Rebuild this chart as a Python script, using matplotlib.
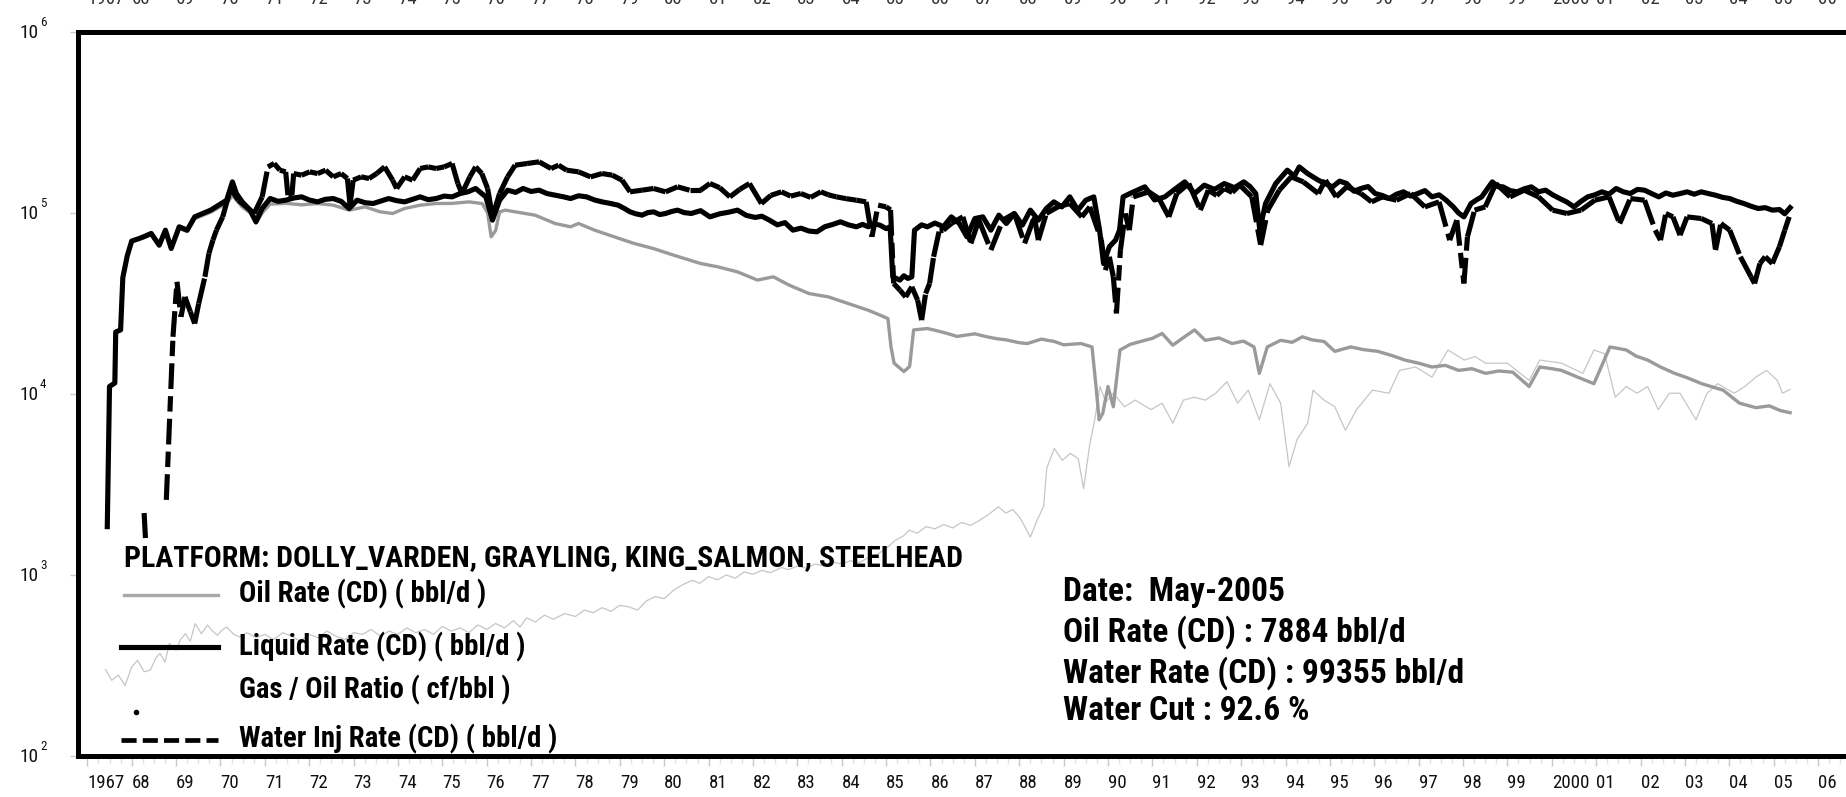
import numpy as np
import matplotlib
matplotlib.use('Agg')
import matplotlib.pyplot as plt
from matplotlib import font_manager
from matplotlib.font_manager import FontProperties
from matplotlib.collections import LineCollection
from matplotlib.lines import Line2D
from matplotlib.ticker import FixedLocator, MultipleLocator, NullFormatter

# ---------------- data ----------------
liq_year = [1967.45, 1967.50, 1967.62, 1967.64, 1967.75, 1967.80, 1967.90, 1968.00, 1968.15, 1968.27,
            1968.44, 1968.62, 1968.76, 1968.89, 1969.07, 1969.25, 1969.42, 1969.60, 1969.78, 1969.96,
            1970.14, 1970.27, 1970.36, 1970.49, 1970.67, 1970.80, 1970.94, 1971.12, 1971.30, 1971.47,
            1971.65, 1971.83, 1972.00, 1972.19, 1972.36, 1972.54, 1972.72, 1972.90, 1973.08, 1973.26,
            1973.44, 1973.62, 1973.79, 1973.97, 1974.15, 1974.33, 1974.50, 1974.68, 1974.86, 1975.04,
            1975.22, 1975.40, 1975.58, 1975.75, 1975.98, 1976.13, 1976.29, 1976.47, 1976.65, 1976.82,
            1977.00, 1977.18, 1977.36, 1977.54, 1977.72, 1977.89, 1978.07, 1978.25, 1978.43, 1978.60,
            1978.78, 1978.96, 1979.10, 1979.23, 1979.36, 1979.50, 1979.63, 1979.76, 1979.90, 1980.03,
            1980.17, 1980.30, 1980.45, 1980.61, 1980.82, 1981.03, 1981.25, 1981.45, 1981.65, 1981.85,
            1982.05, 1982.20, 1982.37, 1982.55, 1982.72, 1982.90, 1983.08, 1983.26, 1983.44, 1983.62,
            1983.80, 1983.97, 1984.15, 1984.33, 1984.47, 1984.60, 1984.73, 1984.86, 1985.00, 1985.09,
            1985.15, 1985.31, 1985.40, 1985.49, 1985.58, 1985.64, 1985.80, 1985.93, 1986.10, 1986.29,
            1986.47, 1986.65, 1986.82, 1987.00, 1987.18, 1987.36, 1987.54, 1987.71, 1987.89, 1988.07,
            1988.25, 1988.43, 1988.61, 1988.78, 1988.96, 1989.14, 1989.32, 1989.50, 1989.68, 1989.81,
            1989.90, 1990.03, 1990.17, 1990.26, 1990.34, 1990.55, 1990.83, 1991.05, 1991.28, 1991.50,
            1991.73, 1991.95, 1992.17, 1992.40, 1992.62, 1992.85, 1993.06, 1993.20, 1993.33, 1993.42,
            1993.55, 1993.78, 1994.04, 1994.20, 1994.31, 1994.50, 1994.74, 1994.90, 1995.06, 1995.22,
            1995.38, 1995.54, 1995.70, 1995.86, 1996.02, 1996.18, 1996.34, 1996.50, 1996.66, 1996.82,
            1996.98, 1997.14, 1997.30, 1997.46, 1997.62, 1997.78, 1997.90, 1998.02, 1998.18, 1998.30,
            1998.42, 1998.54, 1998.66, 1998.78, 1998.90, 1999.06, 1999.22, 1999.38, 1999.54, 1999.70,
            1999.86, 2000.02, 2000.18, 2000.34, 2000.50, 2000.66, 2000.81, 2000.97, 2001.13, 2001.29,
            2001.45, 2001.61, 2001.77, 2001.93, 2002.09, 2002.25, 2002.41, 2002.57, 2002.73, 2002.89,
            2003.05, 2003.21, 2003.37, 2003.53, 2003.69, 2003.85, 2004.01, 2004.17, 2004.33, 2004.49,
            2004.65, 2004.81, 2004.97, 2005.13, 2005.25, 2005.37]
liq_rate = [1850, 11000, 11500, 22000, 22600, 44000, 58000, 70000, 72000, 73900,
            77100, 66400, 80400, 63700, 83900, 80400, 95200, 99400, 103700, 110500,
            117700, 148600, 128100, 115200, 103700, 89400, 105900, 120200, 116000, 117700,
            121000, 122800, 118000, 115200, 119000, 120200, 116000, 105900, 117700, 114000,
            112800, 116500, 120200, 117000, 115200, 119000, 122800, 118500, 120200, 124000,
            122800, 128100, 131000, 136600, 122800, 91300, 117700, 133700, 130000, 136600,
            131500, 133700, 128000, 125400, 123000, 120200, 124500, 122800, 118000, 115200,
            113000, 110500, 106000, 101500, 99000, 97300, 100500, 101500, 98000, 99400,
            102000, 103700, 100500, 99400, 103000, 95200, 99000, 101000, 103700, 97000,
            94500, 96000, 91300, 86000, 88500, 80400, 82500, 79500, 78700, 84000,
            86500, 89400, 86000, 83900, 86500, 83900, 87000, 85700, 82000, 83900,
            44400, 42600, 45000, 43500, 44400, 80400, 86000, 83900, 88000, 84000,
            95200, 87500, 73900, 93200, 95200, 80400, 97300, 87500, 99400, 85700,
            103700, 91300, 105900, 115200, 108100, 122800, 103700, 117700, 122800, 80400,
            52600, 65100, 70800, 80400, 122800, 130000, 139500, 118000, 122800, 135000,
            148600, 128000, 142500, 135000, 145500, 138000, 148600, 140000, 128100, 80400,
            112800, 145500, 172400, 160000, 179800, 165000, 151800, 145000, 139500, 150000,
            145500, 132000, 136600, 140000, 128100, 125000, 120200, 127000, 130900, 124000,
            128100, 133000, 122800, 126000, 117700, 108100, 100000, 95200, 112800, 118000,
            122800, 135000, 148600, 140000, 139500, 133000, 130900, 136000, 139500, 131000,
            133700, 126000, 120200, 115000, 108100, 116000, 122800, 126000, 130900, 127000,
            136600, 131000, 128100, 135000, 133700, 128000, 122800, 129000, 125400, 128000,
            130900, 127000, 130900, 128000, 125400, 122000, 120200, 116000, 112800, 109000,
            105900, 107000, 103700, 104500, 99000, 107000]

oil_year = [1967.45, 1967.50, 1967.62, 1967.64, 1967.75, 1967.80, 1967.90, 1968.00, 1968.15, 1968.27,
            1968.44, 1968.62, 1968.76, 1968.89, 1969.07, 1969.25, 1969.42, 1969.60, 1969.78, 1969.96,
            1970.14, 1970.27, 1970.36, 1970.49, 1970.67, 1970.80, 1970.94, 1971.12, 1971.50, 1971.83,
            1972.19, 1972.54, 1972.90, 1973.26, 1973.60, 1973.88, 1974.15, 1974.50, 1974.86, 1975.22,
            1975.60, 1975.90, 1976.02, 1976.10, 1976.20, 1976.29, 1976.42, 1976.64, 1977.09, 1977.54,
            1977.89, 1978.07, 1978.43, 1978.87, 1979.32, 1979.76, 1980.21, 1980.82, 1981.21, 1981.65,
            1982.10, 1982.46, 1982.81, 1983.26, 1983.70, 1984.15, 1984.60, 1984.86, 1985.04, 1985.11,
            1985.18, 1985.40, 1985.53, 1985.62, 1985.93, 1986.10, 1986.38, 1986.60, 1986.82, 1987.00,
            1987.27, 1987.50, 1987.71, 1988.00, 1988.18, 1988.50, 1988.79, 1989.00, 1989.39, 1989.64,
            1989.73, 1989.80, 1989.88, 1990.00, 1990.12, 1990.27, 1990.50, 1990.73, 1991.00, 1991.22,
            1991.46, 1991.70, 1991.95, 1992.19, 1992.50, 1992.80, 1993.05, 1993.29, 1993.41, 1993.59,
            1993.89, 1994.15, 1994.38, 1994.60, 1994.87, 1995.11, 1995.47, 1995.75, 1996.08, 1996.40,
            1996.69, 1997.00, 1997.30, 1997.60, 1997.90, 1998.20, 1998.51, 1998.80, 1999.12, 1999.49,
            1999.73, 2000.00, 2000.22, 2000.58, 2000.95, 2001.31, 2001.68, 2001.90, 2002.16, 2002.45,
            2002.77, 2003.05, 2003.38, 2003.86, 2004.23, 2004.60, 2004.90, 2005.15, 2005.37]
oil_rate = [1850, 11000, 11500, 22000, 22600, 44000, 58000, 70000, 72000, 73000,
            76000, 66000, 79000, 63000, 82000, 79000, 93000, 97000, 101000, 107000,
            113000, 125000, 118000, 108000, 100000, 88000, 100000, 112000, 113000, 111000,
            112800, 110500, 103700, 108100, 101500, 99400, 105900, 110500, 112800, 113000,
            115200, 112800, 100000, 73900, 80000, 101500, 103700, 101500, 97300, 87500,
            83900, 87500, 80400, 73900, 67900, 63600, 58500, 52600, 50400, 47300,
            42600, 44400, 40000, 35900, 34400, 31600, 29000, 27300, 26100, 18200,
            14800, 13300, 14200, 22600, 23000, 22500, 21600, 20800, 21200, 21500,
            20700, 20200, 19900, 19200, 19000, 20100, 19500, 18700, 19000, 18200,
            11000, 7200, 7800, 11000, 8500, 17500, 18800, 19500, 20300, 21600,
            18600, 20500, 22600, 19800, 20400, 19000, 19600, 18200, 13000, 18200,
            19800, 19300, 20700, 19900, 19500, 17200, 18200, 17600, 17200, 16300,
            15400, 14800, 14100, 14400, 13500, 13800, 13000, 13400, 13200, 11000,
            14100, 13800, 13500, 12400, 11400, 18200, 17500, 16200, 15400, 14100,
            13000, 12300, 11400, 10500, 8900, 8400, 8600, 8100, 7884]

gor_year = [1967.41, 1967.55, 1967.70, 1967.85, 1968.00, 1968.13, 1968.28, 1968.42, 1968.55, 1968.64,
            1968.75, 1968.85, 1969.00, 1969.10, 1969.21, 1969.32, 1969.43, 1969.57, 1969.71, 1969.82,
            1969.93, 1970.05, 1970.14, 1970.30, 1970.43, 1970.60, 1970.80, 1971.00, 1971.20, 1971.40,
            1971.60, 1971.80, 1972.00, 1972.20, 1972.40, 1972.60, 1972.80, 1973.00, 1973.20, 1973.40,
            1973.60, 1973.80, 1974.00, 1974.20, 1974.40, 1974.60, 1974.80, 1975.00, 1975.20, 1975.40,
            1975.60, 1975.80, 1976.00, 1976.20, 1976.40, 1976.60, 1976.75, 1976.90, 1977.10, 1977.30,
            1977.50, 1977.76, 1978.00, 1978.20, 1978.40, 1978.60, 1978.80, 1979.00, 1979.20, 1979.40,
            1979.60, 1979.80, 1980.00, 1980.20, 1980.40, 1980.63, 1980.80, 1981.00, 1981.20, 1981.40,
            1981.60, 1981.80, 1982.00, 1982.20, 1982.40, 1982.64, 1982.80, 1983.00, 1983.20, 1983.40,
            1983.60, 1983.80, 1984.00, 1984.20, 1984.40, 1984.60, 1984.80, 1985.00, 1985.20, 1985.40,
            1985.52, 1985.70, 1985.90, 1986.10, 1986.30, 1986.50, 1986.70, 1986.90, 1987.10, 1987.30,
            1987.53, 1987.70, 1987.85, 1988.00, 1988.10, 1988.25, 1988.40, 1988.55, 1988.62, 1988.79,
            1988.97, 1989.15, 1989.33, 1989.45, 1989.58, 1989.70, 1989.82, 1989.95, 1990.12, 1990.37,
            1990.61, 1990.97, 1991.22, 1991.46, 1991.70, 1991.95, 1992.19, 1992.43, 1992.68, 1992.92,
            1993.16, 1993.41, 1993.65, 1993.89, 1994.08, 1994.26, 1994.50, 1994.62, 1994.87, 1995.11,
            1995.35, 1995.60, 1995.96, 1996.33, 1996.57, 1996.93, 1997.30, 1997.66, 1998.03, 1998.27,
            1998.51, 1999.00, 1999.49, 1999.73, 2000.22, 2000.70, 2000.95, 2001.19, 2001.43, 2001.68,
            2001.92, 2002.16, 2002.40, 2002.65, 2002.89, 2003.25, 2003.50, 2003.74, 2004.11, 2004.35,
            2004.60, 2004.84, 2005.08, 2005.20, 2005.37]
gor_value = [300, 262, 280, 245, 310, 338, 292, 298, 350, 368,
             330, 418, 384, 440, 474, 430, 539, 474, 529, 490,
             465, 500, 516, 470, 455, 480, 450, 470, 440, 480,
             460, 430, 470, 450, 490, 460, 440, 480, 470, 500,
             460, 490, 470, 510, 480, 500, 470, 520, 490, 510,
             480, 530, 500, 540, 510, 560, 516, 580, 550, 600,
             570, 612, 590, 640, 620, 660, 630, 680, 667, 640,
             720, 760, 740, 820, 880, 935, 900, 980, 940, 1000,
             960, 1040, 1010, 1060, 1030, 1100, 1070, 1120, 1090, 1150,
             1120, 1180, 1150, 1200, 1170, 1250, 1300, 1400, 1550, 1650,
             1770, 1700, 1850, 1800, 1900, 1820, 1950, 1880, 2000, 2150,
             2380, 2200, 2300, 2100, 1900, 1620, 2000, 2400, 3900, 5000,
             4300, 4700, 4400, 3000, 5100, 7200, 11000, 9000, 10100, 8500,
             9250, 8200, 8900, 6900, 9250, 9600, 9250, 10100, 11700, 8900,
             10500, 7200, 11400, 8900, 3960, 5600, 6900, 10500, 9250, 8500,
             6300, 8200, 10500, 10100, 13500, 14100, 12400, 17500, 15400, 16100,
             14800, 14800, 11900, 15400, 14800, 13000, 17500, 16700, 9600, 11000,
             10100, 11000, 8200, 10100, 10100, 7200, 10100, 11400, 10100, 11000,
             12400, 13500, 11900, 10100, 10600]

winj_year = [1968.28, 1968.31, np.nan,
             1968.78, 1968.93, 1969.02, 1969.11, 1969.20, 1969.32, 1969.42, 1969.51, 1969.65, 1969.74,
             1969.83, 1969.91, 1970.05, 1970.23, 1970.40, 1970.58, 1970.76, 1970.94, 1971.07, 1971.21,
             1971.34, 1971.47, 1971.52, 1971.61, 1971.65, 1971.83, 1972.01, 1972.19, 1972.37, 1972.54,
             1972.72, 1972.86, 1972.92, 1972.99, 1973.17, 1973.35, 1973.52, 1973.70, 1973.88, 1973.97,
             1974.15, 1974.33, 1974.50, 1974.68, 1974.86, 1975.04, 1975.22, 1975.35, 1975.44, 1975.62,
             1975.75, 1975.89, 1976.02, 1976.13, 1976.29, 1976.47, 1976.64, 1976.91, 1977.18, 1977.45,
             1977.62, 1977.80, 1978.07, 1978.34, 1978.60, 1978.83, 1979.05, 1979.23, 1979.50, 1979.76,
             1980.03, 1980.30, 1980.57, 1980.82, 1981.03, 1981.25, 1981.48, 1981.70, 1981.92, 1982.19,
             1982.40, 1982.64, 1982.85, 1983.08, 1983.30, 1983.53, 1983.70, 1983.88, 1984.10, 1984.33,
             1984.55, 1984.68, 1984.82, 1985.00, 1985.10, 1985.17, 1985.31, 1985.44, 1985.58, 1985.71,
             1985.80, 1985.89, 1985.98, 1986.07, 1986.20, 1986.29, 1986.47, 1986.73, 1986.91, 1987.09,
             1987.36, 1987.63, 1987.89, 1988.12, 1988.34, 1988.43, 1988.61, 1988.87, 1989.14, 1989.41,
             1989.59, 1989.85, 1989.94, 1990.03, 1990.12, 1990.19, 1990.28, 1990.39, 1990.48, 1990.57,
             1990.92, 1991.15, 1991.37, 1991.55, 1991.82, 1992.08, 1992.26, 1992.45, 1992.62, 1992.80,
             1992.97, 1993.24, 1993.44, 1993.60, 1993.86, 1994.13, 1994.40, 1994.74, 1994.90, 1995.14,
             1995.38, 1995.70, 1995.94, 1996.18, 1996.50, 1996.82, 1997.14, 1997.46, 1997.70, 1997.86,
             1998.02, 1998.10, 1998.26, 1998.50, 1998.74, 1999.06, 1999.38, 1999.70, 2000.02, 2000.34,
             2000.66, 2000.97, 2001.29, 2001.53, 2001.77, 2002.09, 2002.33, 2002.45, 2002.57, 2002.73,
             2002.89, 2003.05, 2003.37, 2003.61, 2003.69, 2003.81, 2004.01, 2004.25, 2004.49, 2004.57,
             2004.69, 2004.81, 2004.97, 2005.13, 2005.25, 2005.35]
winj_rate = [2200, 1600, np.nan,
             2600, 20700, 41700, 26700, 34400, 28500, 24500, 31600, 44400, 59800,
             70800, 80400, 95200, 136600, 117700, 108100, 99400, 122800, 179800, 187700,
             172400, 168800, 125400, 125400, 165200, 161800, 168800, 165200, 172400, 158400,
             165200, 155100, 110500, 151800, 158400, 155100, 165200, 179800, 151800, 136600,
             158400, 151800, 176100, 179800, 176100, 179800, 187700, 145500, 128100, 158400,
             179800, 165200, 136600, 95200, 128100, 158400, 183700, 187700, 191700, 176100,
             183700, 172400, 168800, 158400, 165200, 161800, 151800, 130900, 133700, 136600,
             130900, 139500, 133700, 133700, 145500, 138000, 122800, 135000, 145500, 112800,
             125000, 130900, 124000, 128100, 122000, 130900, 126000, 122800, 120000, 117700,
             115200, 73900, 110500, 108100, 104000, 40800, 37500, 34400, 39100, 33000,
             25600, 35900, 40800, 57300, 80400, 80400, 87500, 95200, 67900, 91300,
             62400, 91300, 99400, 67900, 95200, 70800, 99400, 108100, 112800, 95200,
             108100, 70800, 48300, 57300, 44400, 27900, 62400, 99400, 80400, 122800,
             130900, 120000, 95200, 128100, 145500, 103700, 133700, 125000, 136600, 130000,
             142500, 122800, 66400, 103700, 133700, 158400, 148600, 128100, 151800, 122800,
             139500, 128100, 115200, 122800, 117700, 128100, 108100, 115200, 70800, 91300,
             40800, 73900, 103700, 108100, 145500, 122800, 133700, 122800, 103700, 99400,
             103700, 117700, 122800, 87500, 120200, 117700, 80400, 70800, 99400, 95200,
             75400, 95200, 93200, 87500, 62400, 87500, 80400, 57300, 44400, 40800,
             52600, 57300, 52600, 65100, 80400, 95200]

stray_year = [1968.09]
stray_value = [175]

years = list(range(1967, 2007))
year_labels = ['1967'] + ['%02d' % (y % 100) for y in range(1968, 2000)] + ['2000'] + \
              ['%02d' % (y % 100) for y in range(2001, 2007)]
decades = [1e2, 1e3, 1e4, 1e5, 1e6]
decade_exp = ['2', '3', '4', '5', '6']

platform_title = "PLATFORM: DOLLY_VARDEN, GRAYLING, KING_SALMON, STEELHEAD"
series_labels = ["Oil Rate (CD) ( bbl/d )", "Liquid Rate (CD) ( bbl/d )",
                 "Gas / Oil Ratio ( cf/bbl )", "Water Inj Rate (CD) ( bbl/d )"]
info_date = "May-2005"
info_oil = 7884
info_water = 99355
info_cut = 92.6

# ---------------- fonts (narrow grotesque preferred) ----------------
WMAP = {'ultralight': 200, 'light': 300, 'normal': 400, 'regular': 400, 'book': 400,
        'medium': 500, 'semibold': 600, 'demibold': 600, 'bold': 700, 'heavy': 800, 'black': 900}


def _w(x):
    try:
        return int(x)
    except (TypeError, ValueError):
        return WMAP.get(str(x).lower(), 400)


def pick_family(prefs):
    names = {f.name for f in font_manager.fontManager.ttflist}
    for p in prefs:
        if p in names:
            return p
    return None


def font_file(family, weight):
    best, bd = None, 1e9
    for f in font_manager.fontManager.ttflist:
        if f.name == family and f.style == 'normal':
            d = abs(_w(f.weight) - weight)
            if d < bd:
                best, bd = f.fname, d
    return best


FAM = pick_family(['Liberation Sans Narrow', 'Arial Narrow', 'Nimbus Sans Narrow', 'Roboto Condensed',
                   'Archivo Narrow', 'PT Sans Narrow', 'Asap Condensed', 'Barlow Semi Condensed'])
if FAM is not None:
    F_REG = font_file(FAM, 400)
    F_BOLD = font_file(FAM, 700)
else:
    F_REG = F_BOLD = None


def fp(size, bold=False):
    f = F_BOLD if bold else F_REG
    if f is None:
        return FontProperties(family='DejaVu Sans', size=size, weight='bold' if bold else 'normal')
    return FontProperties(fname=f, size=size)


# ---------------- figure ----------------
W, H = 1846, 797
fig = plt.figure(figsize=(W / 100, H / 100), dpi=100)
fig.patch.set_facecolor('white')
renderer = fig.canvas.get_renderer()


def fitted(s, target_px, bold):
    """font size at which text s is target_px wide"""
    t = fig.text(0, 0, s, fontproperties=fp(20, bold))
    w = t.get_window_extent(renderer).width
    t.remove()
    return 20.0 * target_px / max(w, 1.0)


S_TITLE = fitted(platform_title, 839, True)
S_ENTRY = fitted(series_labels[3], 317, True)
S_INFO = fitted("Water Rate (CD) : %d bbl/d" % info_water, 400, True)
S_TICK = fitted('1967', 37, False)
S_YTICK = fitted('10', 19, False)

L, R, T, B = 78, 1846, 32, 756
ax = fig.add_axes([L / W, 1 - B / H, (R - L) / W, (B - T) / H])
ax.set_yscale('log')
ax.set_ylim(100, 1e6)
ax.set_xlim(1966.79, 2006.63)

ax.plot(gor_year, gor_value, color='#c6c6c6', lw=0.9, zorder=1)
ax.plot(oil_year, oil_rate, color='#9a9a9a', lw=2.4, zorder=2)

wy = np.array(winj_year, dtype=float)
wr = np.array(winj_rate, dtype=float)
pts = np.column_stack([wy, wr])
segs = [pts[i:i + 2] for i in range(len(pts) - 1) if np.all(np.isfinite(pts[i:i + 2]))]
lc = LineCollection(segs, colors='black', linewidths=3.7,
                    linestyles=[(0, (5.0, 1.4, 3.0, 1.4))], capstyle='butt', zorder=3)
ax.add_collection(lc)

ax.plot(liq_year, liq_rate, color='black', lw=3.7, zorder=4)
ax.plot(stray_year, stray_value, 'o', color='black', ms=3, zorder=4)

for s in ['left', 'top', 'bottom']:
    ax.spines[s].set_linewidth(3.6)
    ax.spines[s].set_color('black')
ax.spines['right'].set_visible(False)

# x ticks (labels start at the tick)
ax.xaxis.set_major_locator(FixedLocator(years))
ax.set_xticklabels(year_labels)
for lab in ax.get_xticklabels():
    lab.set_horizontalalignment('left')
    lab.set_fontproperties(fp(S_TICK))
    lab.set_color('#111111')
ax.xaxis.set_minor_locator(MultipleLocator(0.25))
ax.tick_params(axis='x', which='major', length=7, width=1, color='#c8c8c8', pad=6)
ax.tick_params(axis='x', which='minor', length=5, width=1, color='#e0e0e0')

# y ticks: marks only; labels "10" + raised exponent drawn as texts at each decade
ax.yaxis.set_major_locator(FixedLocator(decades))
ax.yaxis.set_major_formatter(NullFormatter())
ax.yaxis.set_minor_locator(FixedLocator([]))
ax.tick_params(axis='y', which='major', length=6, width=1, color='#cccccc')
for v, e in zip(decades, decade_exp):
    ax.annotate('10', xy=(0, v), xycoords=('axes fraction', 'data'), xytext=(-39, -1),
                textcoords='offset pixels', ha='right', va='center',
                fontproperties=fp(S_YTICK), color='#111111', annotation_clip=False)
    ax.annotate(e, xy=(0, v), xycoords=('axes fraction', 'data'), xytext=(-38, 3),
                textcoords='offset pixels', ha='left', va='bottom',
                fontproperties=fp(S_YTICK * 0.68), color='#111111', annotation_clip=False)

# top (cut-off) year labels
top = ax.secondary_xaxis('top')
top.set_xticks(years)
top.set_xticklabels(year_labels)
for lab in top.get_xticklabels():
    lab.set_horizontalalignment('left')
    lab.set_fontproperties(fp(S_TICK))
    lab.set_color('#333333')
top.tick_params(length=0, pad=17)
top.spines['top'].set_visible(False)


# legend (placed in figure pixels)
def fx(x):
    return x / W


def fy(y):
    return 1 - y / H


fig.text(fx(124), fy(558), platform_title, fontproperties=fp(S_TITLE, True),
         va='center', ha='left', color='black')
for lab, yy in zip(series_labels, [594, 647, 690, 739]):
    fig.text(fx(239), fy(yy), lab, fontproperties=fp(S_ENTRY, True), va='center', ha='left')
fig.add_artist(Line2D([fx(124), fx(218)], [fy(595), fy(595)], color='#a8a8a8', lw=2.4,
                      transform=fig.transFigure))
fig.add_artist(Line2D([fx(121), fx(218)], [fy(647), fy(647)], color='black', lw=3.7,
                      transform=fig.transFigure))
fig.add_artist(Line2D([fx(121), fx(218)], [fy(740), fy(740)], color='black', lw=3.4,
                      linestyle=(0, (3.2, 1.3)), transform=fig.transFigure))

info_lines = ["Date:  %s" % info_date,
              "Oil Rate (CD) : %d bbl/d" % info_oil,
              "Water Rate (CD) : %d bbl/d" % info_water,
              "Water Cut : %.1f %%" % info_cut]
for txt, yy in zip(info_lines, [592, 632, 673, 711]):
    fig.text(fx(1063), fy(yy), txt, fontproperties=fp(S_INFO, True), va='center', ha='left')

fig.savefig('out.png', dpi=100, facecolor='white')
